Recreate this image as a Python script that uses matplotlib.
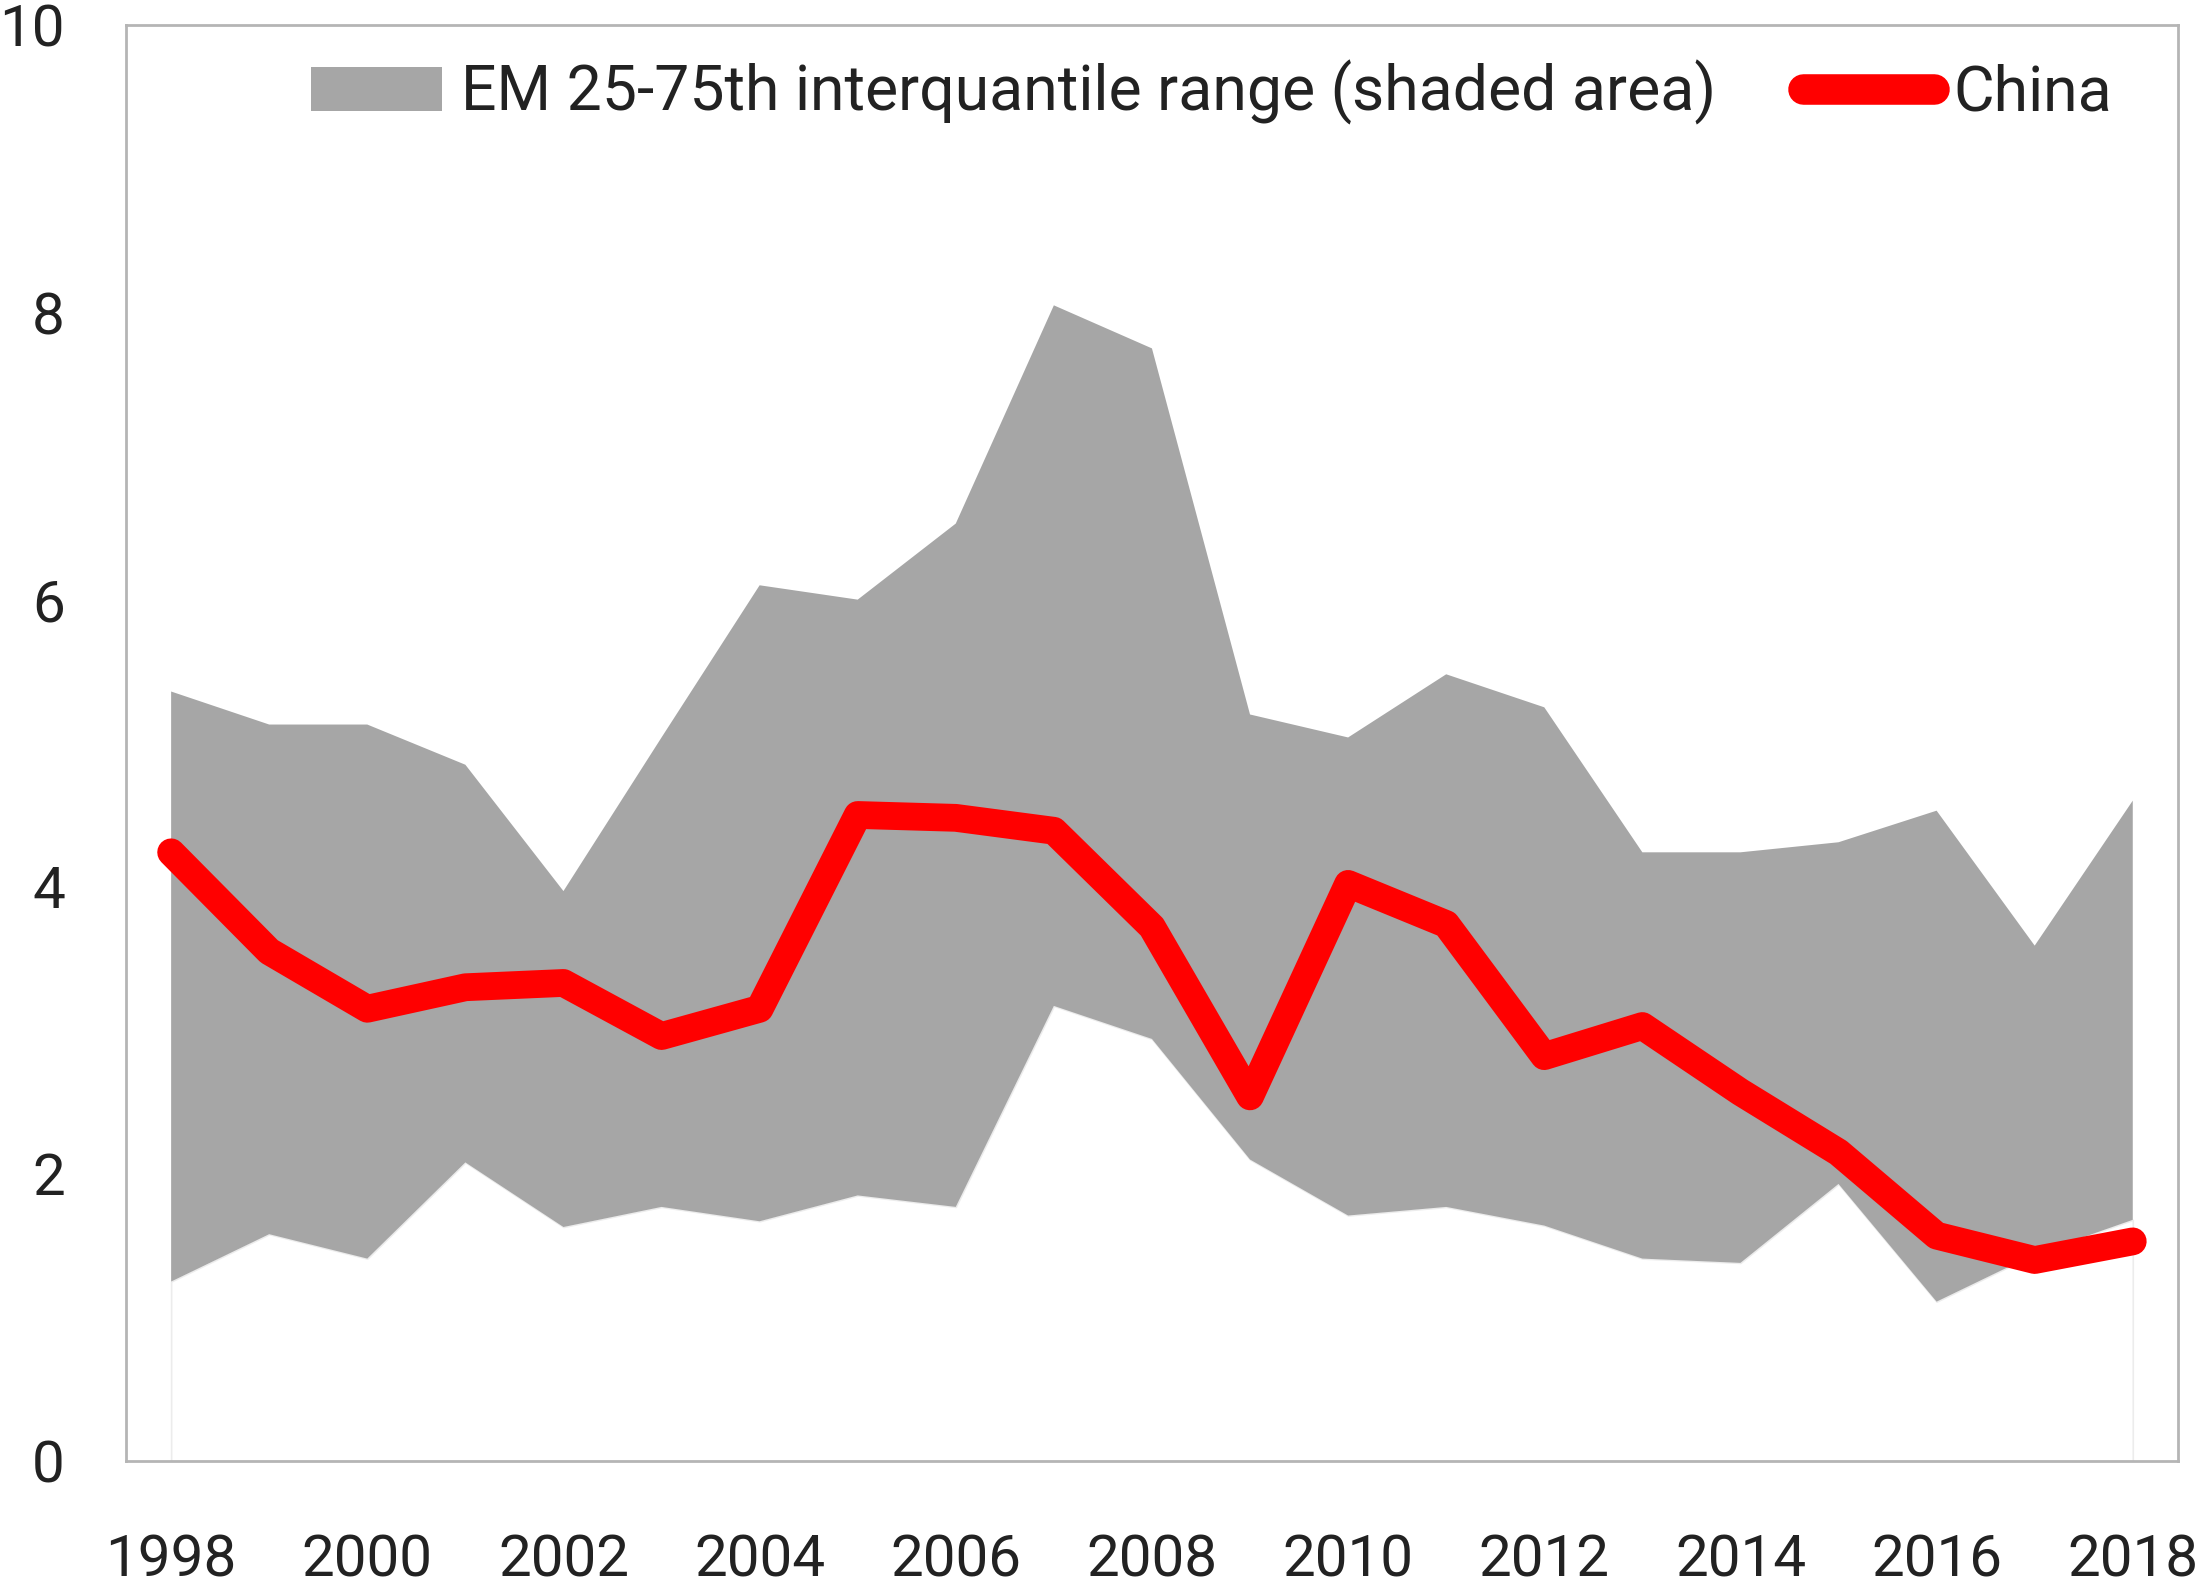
import matplotlib.pyplot as plt
from matplotlib.patches import Patch
from matplotlib.lines import Line2D

plt.rcParams["font.family"] = ["Roboto", "DejaVu Sans"]

# data
years = list(range(1998, 2019))
em_p75 = [5.36, 5.13, 5.13, 4.85, 3.97, 5.04, 6.10, 6.00, 6.53, 8.05, 7.75,
          5.20, 5.04, 5.48, 5.25, 4.24, 4.24, 4.31, 4.53, 3.59, 4.60]
em_p25 = [1.25, 1.58, 1.41, 2.08, 1.63, 1.77, 1.67, 1.85, 1.77, 3.17, 2.94,
          2.10, 1.71, 1.77, 1.64, 1.41, 1.38, 1.93, 1.11, 1.44, 1.68]
china = [4.24, 3.55, 3.15, 3.30, 3.33, 2.96, 3.15, 4.50, 4.48, 4.39, 3.72,
         2.54, 4.02, 3.74, 2.82, 3.03, 2.57, 2.15, 1.57, 1.40, 1.53]
xticks = list(range(1998, 2019, 2))
yticks = [0, 2, 4, 6, 8, 10]

FONT = 42
GRAY = "#a6a6a6"
RED = "#ff0000"

fig = plt.figure(figsize=(22.03, 15.86), dpi=100)
ax = fig.add_axes([0.0572, 0.0788, 0.9314, 0.9052])

# white stacked base with faint edge, then the grey band on top
ax.fill_between(years, 0, em_p25, facecolor="white", edgecolor="#ececec", linewidth=1.2)
ax.fill_between(years, em_p25, em_p75, facecolor=GRAY, linewidth=0)
ax.plot(years, china, color=RED, linewidth=20, solid_capstyle="round",
        solid_joinstyle="round")

ax.set_xlim(1997.54, 2018.46)
ax.set_ylim(0, 10)
ax.set_xticks(xticks)
ax.set_yticks(yticks)
ax.tick_params(axis="both", length=0, labelsize=FONT, colors="#222222")
ax.tick_params(axis="x", pad=52)
ax.tick_params(axis="y", pad=44)
for s in ax.spines.values():
    s.set_color("#b5b5b5")
    s.set_linewidth(2.0)

handles = [
    Patch(facecolor=GRAY, edgecolor="none"),
    Line2D([], [], color=RED, linewidth=22, solid_capstyle="round"),
]
labels = ["EM 25-75th interquantile range (shaded area)", "China"]
leg = ax.legend(handles, labels, loc="upper left", bbox_to_anchor=(0.141, 0.962),
                bbox_transform=fig.transFigure, ncol=2, frameon=False,
                fontsize=45, handlelength=2.1, handleheight=0.72,
                handletextpad=0.3, columnspacing=1.4, borderaxespad=0,
                borderpad=0)
for t in leg.get_texts():
    t.set_color("#222222")

fig.savefig("out.png", dpi=100)
